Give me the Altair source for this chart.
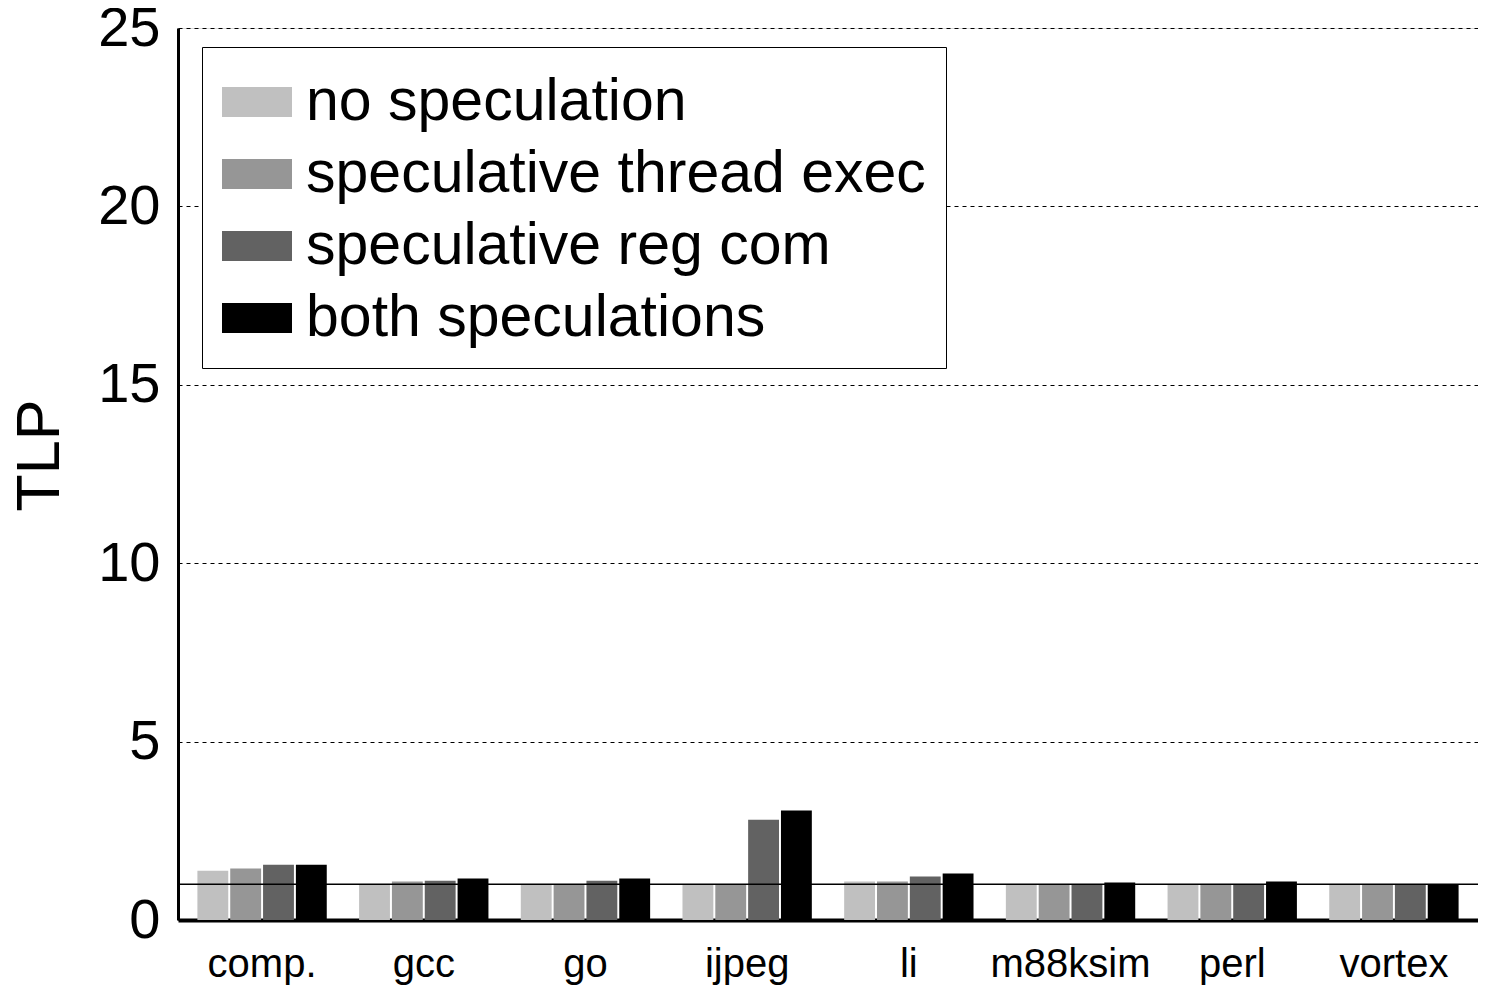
import altair as alt
import pandas as pd

benchmarks = ["comp.", "gcc", "go", "ijpeg", "li", "m88ksim", "perl", "vortex"]
series = ["no speculation", "speculative thread exec", "speculative reg com", "both speculations"]
colors = ["#c0c0c0", "#969696", "#626262", "#000000"]

no_spec = [1.38, 1.00, 1.00, 1.00, 1.08, 1.00, 1.00, 1.00]
thread_exec = [1.44, 1.08, 1.00, 1.00, 1.08, 1.00, 1.00, 1.00]
reg_com = [1.55, 1.10, 1.10, 2.81, 1.22, 1.00, 1.00, 1.00]
both = [1.55, 1.16, 1.16, 3.07, 1.30, 1.05, 1.08, 0.99]
reference_line = [1.0]

rows = []
for vals, s in zip([no_spec, thread_exec, reg_com, both], series):
    for b, v in zip(benchmarks, vals):
        rows.append({"benchmark": b, "config": s, "TLP": v})
df = pd.DataFrame(rows)

FONT = "Liberation Sans"

bars = alt.Chart(df).mark_bar().encode(
    x=alt.X("benchmark:N", sort=benchmarks, title=None,
            scale=alt.Scale(paddingInner=0.2, paddingOuter=0.12),
            axis=alt.Axis(labelAngle=0, labelFontSize=40, labelFont=FONT, labelColor="black",
                          ticks=False, labelPadding=24, domainColor="black", domainWidth=4)),
    xOffset=alt.XOffset("config:N", sort=series, scale=alt.Scale(paddingInner=0.06)),
    y=alt.Y("TLP:Q", scale=alt.Scale(domain=[0, 25], nice=False), title="TLP",
            axis=alt.Axis(values=[0, 5, 10, 15, 20, 25], labelFontSize=56, labelFont=FONT,
                          labelColor="black", titleFontSize=61, titleFont=FONT,
                          titleFontWeight="normal", titleColor="black", titlePadding=26,
                          titleY=427,
                          ticks=False, labelPadding=18, domainColor="black", domainWidth=3,
                          grid=True, gridColor="black", gridDash=[4, 4], gridWidth=1)),
    color=alt.Color("config:N", sort=series, scale=alt.Scale(domain=series, range=colors),
                    legend=alt.Legend(title=None, orient="none", legendX=24, legendY=19,
                                      labelFontSize=59, labelFont=FONT, labelColor="black",
                                      labelLimit=1000, labelOffset=14,
                                      symbolType="M-1,-0.43L1,-0.43L1,0.43L-1,0.43Z",
                                      symbolSize=4900, symbolStrokeWidth=0,
                                      rowPadding=7, padding=20,
                                      strokeColor="black", fillColor="white")),
)

rule = alt.Chart(pd.DataFrame({"ref": reference_line})).mark_rule(color="black", strokeWidth=1.5).encode(
    y=alt.Y("ref:Q")
)

chart = alt.layer(bars, rule).properties(
    width=1300, height=892,
    autosize=alt.AutoSizeParams(type="none"),
    padding={"left": 170, "top": 20, "right": 0, "bottom": 68},
).configure_view(stroke=None).configure(background="white")

chart.save("out.html", embed_options={"renderer": "svg", "actions": False})
